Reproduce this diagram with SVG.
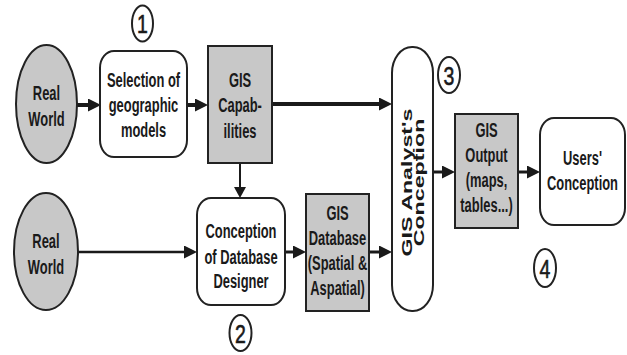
<svg xmlns="http://www.w3.org/2000/svg" width="627" height="355" viewBox="0 0 627 355">
<defs>
<marker id="ah" markerUnits="userSpaceOnUse" markerWidth="13" markerHeight="13" refX="0" refY="6.5" orient="auto">
<path d="M0,0 L13,6.5 L0,13 z" fill="#1a1a1a"/>
</marker>
<marker id="ahs" markerUnits="userSpaceOnUse" markerWidth="11" markerHeight="12" refX="0" refY="6" orient="auto">
<path d="M0,0 L11,6 L0,12 z" fill="#1a1a1a"/>
</marker>
</defs>
<style>
.g{fill:#c8c8c8;stroke:#222;stroke-width:2}
.w{fill:#fff;stroke:#222;stroke-width:2}
.t{font-family:"Liberation Sans",Arial,sans-serif;font-weight:bold;font-size:20.5px;fill:#1a1a1a;text-anchor:middle}
.r{font-family:"Liberation Sans",Arial,sans-serif;font-weight:bold;font-size:15px;fill:#1a1a1a;text-anchor:middle}
.n{font-family:"Liberation Sans",Arial,sans-serif;font-size:26px;fill:#1a1a1a;stroke:#1a1a1a;stroke-width:0.6;text-anchor:middle}
.c{fill:#fff;stroke:#222;stroke-width:2}
.l{stroke:#1a1a1a;fill:none}
</style>
<rect width="627" height="355" fill="#fff"/>
<g id="connectors">
<line class="l" x1="77" y1="105" x2="88" y2="105" stroke-width="4" marker-end="url(#ah)"/>
<line class="l" x1="187" y1="105" x2="195" y2="105" stroke-width="4" marker-end="url(#ah)"/>
<line class="l" x1="272" y1="104" x2="379" y2="104" stroke-width="4" marker-end="url(#ah)"/>
<line class="l" x1="240" y1="163" x2="240" y2="187" stroke-width="2" marker-end="url(#ahs)"/>
<line class="l" x1="78" y1="252" x2="184" y2="252" stroke-width="2.5" marker-end="url(#ah)"/>
<line class="l" x1="285" y1="252" x2="293" y2="252" stroke-width="3" marker-end="url(#ah)"/>
<line class="l" x1="369" y1="252" x2="379" y2="252" stroke-width="3" marker-end="url(#ah)"/>
<line class="l" x1="433" y1="172" x2="442" y2="172" stroke-width="3" marker-end="url(#ah)"/>
<line class="l" x1="518" y1="172" x2="527" y2="172" stroke-width="3" marker-end="url(#ah)"/>
</g>
<g id="real-world-1">
<ellipse class="g" cx="46.5" cy="104" rx="30.5" ry="59"/>
<g transform="translate(46.5,0) scale(0.63,1)"><text class="t" x="0" y="100">Real</text><text class="t" x="0" y="126">World</text></g>
</g>
<g id="selection">
<rect class="w" x="100" y="51" width="87" height="106" rx="14" ry="17"/>
<g transform="translate(143.5,0) scale(0.63,1)"><text class="t" x="0" y="87">Selection of</text><text class="t" x="0" y="112">geographic</text><text class="t" x="0" y="137">models</text></g>
</g>
<g id="gis-capabilities">
<rect class="g" x="208" y="46" width="64" height="117"/>
<g transform="translate(240,0) scale(0.63,1)"><text class="t" x="0" y="87">GIS</text><text class="t" x="0" y="112">Capab-</text><text class="t" x="0" y="138">ilities</text></g>
</g>
<g id="real-world-2">
<ellipse class="g" cx="46" cy="251.5" rx="32" ry="58.5"/>
<g transform="translate(46,0) scale(0.63,1)"><text class="t" x="0" y="248">Real</text><text class="t" x="0" y="274">World</text></g>
</g>
<g id="conception-db-designer">
<rect class="w" x="197" y="198" width="88" height="107" rx="14" ry="17"/>
<g transform="translate(241,0) scale(0.63,1)"><text class="t" x="0" y="238">Conception</text><text class="t" x="0" y="264">of Database</text><text class="t" x="0" y="288">Designer</text></g>
</g>
<g id="gis-database">
<rect class="g" x="306" y="194" width="63" height="117"/>
<g transform="translate(337.5,0) scale(0.63,1)"><text class="t" x="0" y="220">GIS</text><text class="t" x="0" y="245">Database</text><text class="t" x="0" y="270">(Spatial &amp;</text><text class="t" x="0" y="295">Aspatial)</text></g>
</g>
<g id="gis-analyst">
<rect class="w" x="392" y="47" width="41" height="264" rx="20" ry="26"/>
<g transform="translate(412,182.5) rotate(-90) scale(1.55,1)"><text class="r" x="0" y="0">GIS Analyst's</text><text class="r" x="0" y="12">Conception</text></g>
</g>
<g id="gis-output">
<rect class="g" x="455" y="114" width="63" height="114"/>
<g transform="translate(486.5,0) scale(0.63,1)"><text class="t" x="0" y="137">GIS</text><text class="t" x="0" y="162">Output</text><text class="t" x="0" y="187">(maps,</text><text class="t" x="0" y="212">tables...)</text></g>
</g>
<g id="users-conception">
<rect class="w" x="540" y="118" width="85" height="107" rx="14" ry="17"/>
<g transform="translate(582.5,0) scale(0.63,1)"><text class="t" x="0" y="165">Users'</text><text class="t" x="0" y="190">Conception</text></g>
</g>
<g id="label-1"><ellipse class="c" cx="142.5" cy="23.5" rx="10.5" ry="18"/><g transform="translate(142.5,0) scale(0.75,1)"><text class="n" x="0" y="33">1</text></g></g>
<g id="label-2"><ellipse class="c" cx="240.5" cy="333" rx="11" ry="18"/><g transform="translate(240.5,0) scale(0.75,1)"><text class="n" x="0" y="343">2</text></g></g>
<g id="label-3"><ellipse class="c" cx="449" cy="75" rx="11" ry="18"/><g transform="translate(449,0) scale(0.75,1)"><text class="n" x="0" y="85">3</text></g></g>
<g id="label-4"><ellipse class="c" cx="545" cy="268" rx="11" ry="19"/><g transform="translate(545,0) scale(0.75,1)"><text class="n" x="0" y="278">4</text></g></g>
</svg>
